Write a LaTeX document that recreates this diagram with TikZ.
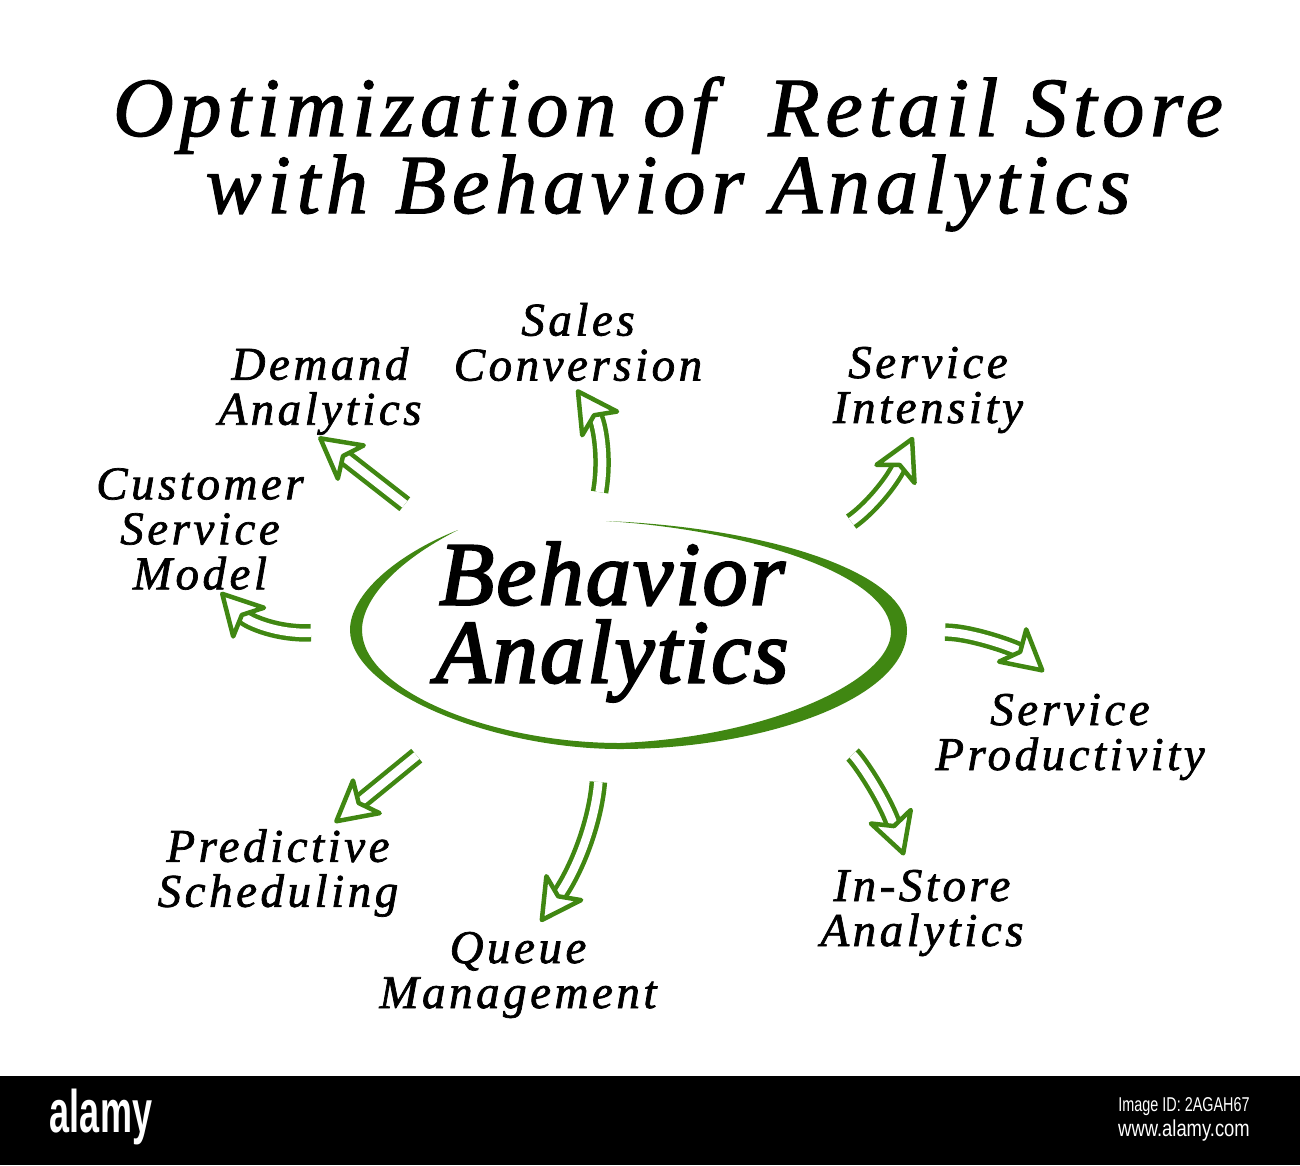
\documentclass[tikz,border=0pt]{standalone}
\usepackage{fontspec}
\setmainfont{Liberation Serif}
\newfontfamily\barfont{Liberation Sans}
\usetikzlibrary{arrows.meta,positioning,shapes.geometric}
\definecolor{leaf}{rgb}{0.25,0.53,0.07}

\begin{document}
\begin{tikzpicture}[x=1pt,y=-1pt,node distance=300pt,inner sep=0pt]
\tikzstyle{goal}=[align=center,text=black,font=\fontsize{47}{45}\selectfont\itshape\addfontfeature{LetterSpace=7.5,FakeBold=1.5}]
\tikzstyle{every edge}=[draw=leaf,double=white,double distance=8.5pt,line width=4.5pt,
-{Stealth[open,round,length=48pt,width=52pt,inset=12pt,line width=4.5pt,fill=white]}]

\useasboundingbox (0,0) rectangle (1300,1165);
\fill[black] (0,1076) rectangle (1300,1165);

\node[ellipse,minimum width=580pt,minimum height=236pt,align=center,
font=\fontsize{90}{78}\selectfont\itshape\addfontfeature{LetterSpace=2.5,FakeBold=2.5}] (hub) at (612,622) {Behavior\\Analytics};
\node[align=center,font=\fontsize{84}{75}\selectfont\itshape\addfontfeature{LetterSpace=7,FakeBold=1.5}] (title) [above of=hub,node distance=468pt,xshift=56pt]
{Optimization of~ Retail Store\\with Behavior Analytics};

\node[goal] (sales)        [above of=hub,node distance=280pt,xshift=-34pt] {Sales\\Conversion};
\node[goal] (demand)       [left of=hub,node distance=292pt,yshift=231pt]  {Demand\\Analytics};
\node[goal] (customer)     [left of=hub,node distance=412pt,yshift=93pt]   {Customer\\Service\\Model};
\node[goal] (intensity)    [right of=hub,node distance=316pt,yshift=232pt] {Service\\Intensity};
\node[goal] (productivity) [right of=hub,node distance=458pt,yshift=-115pt] {Service\\Productivity};
\node[goal] (instore)      [right of=hub,node distance=310pt,yshift=-291pt] {In-Store\\Analytics};
\node[goal] (queue)        [below of=hub,node distance=353pt,xshift=-94pt] {Queue\\Management};
\node[goal] (predictive)   [left of=hub,node distance=334pt,yshift=-251pt] {Predictive\\Scheduling};

\fill[leaf] (458,530) .. controls (395,555) and (350,595) .. (350,630)
.. controls (350,690) and (490,749) .. (620,749)
.. controls (760,749) and (907,700) .. (907,630)
.. controls (907,570) and (760,527) .. (606,521)
.. controls (750,530) and (891,575) .. (891,632)
.. controls (891,680) and (770,737) .. (620,743)
.. controls (490,743) and (362,690) .. (362,630)
.. controls (362,600) and (395,562) .. (458,530) -- cycle;

\path (hub.97) edge [bend right=22,shorten <=12pt,shorten >=10pt] (sales.-100)
(hub.152.5) edge [shorten <=39pt,shorten >=3pt] (demand.265)
(hub.182.4) edge [bend left=25,shorten <=12pt,shorten >=3pt] (customer.-73)
(hub.21.5) edge [bend right=15,shorten <=34pt,shorten >=4pt] (intensity.-107)
(hub.-2) edge [bend left=20,shorten <=44pt,shorten >=34pt] (productivity.north)
(hub.-25) edge [bend left=15,shorten <=66pt,shorten >=15pt] (instore.107)
(hub.-95) edge [bend left=15,shorten <=42pt,shorten >=12pt] (queue.70)
(hub.213) edge [shorten <=53pt,shorten >=10pt] (predictive.42);

\node[text=white,font=\barfont\bfseries\fontsize{60}{60}\selectfont,xscale=0.6] (brand) at (101,1117) {alamy};
\node[text=white,font=\barfont\fontsize{20}{20}\selectfont,xscale=0.72] (imageid) at (1184,1107) {Image ID: 2AGAH67};
\node[text=white,font=\barfont\fontsize{23}{23}\selectfont,xscale=0.8] (site) at (1184,1131) {www.alamy.com};
\end{tikzpicture}
\end{document}
